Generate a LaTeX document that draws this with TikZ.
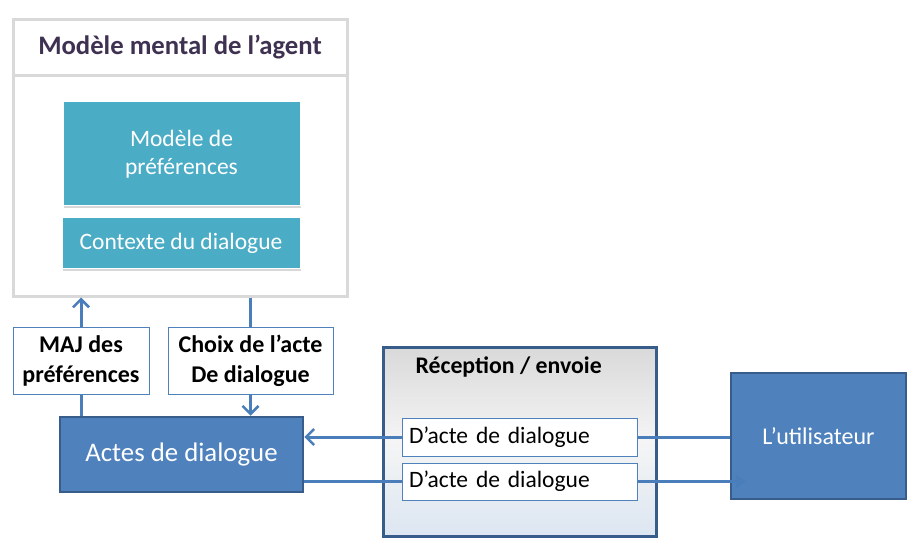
\documentclass[tikz,border=0pt]{standalone}
\usepackage{fontspec}
\setmainfont{Carlito}
\usetikzlibrary{arrows.meta,shadows,calc}
\definecolor{titlec}{HTML}{3F3151}
\definecolor{aqua}{HTML}{4BACC6}
\definecolor{blue1}{HTML}{4F81BD}
\definecolor{blued}{HTML}{385D8A}
\definecolor{linec}{HTML}{4A7EBB}
\definecolor{grayb}{HTML}{D9D9D9}
\definecolor{gradb}{HTML}{DCE6F2}
\tikzset{
  aquabox/.style={fill=aqua, draw=white, line width=1pt, text=white, font=\fontsize{23.5}{28}\selectfont, drop shadow={shadow xshift=1pt, shadow yshift=-2pt, opacity=0.3}},
  labbox/.style={fill=white, draw=blue1, line width=1pt, font=\bfseries\fontsize{24}{30}\selectfont},
  bigblue/.style={fill=blue1, draw=blued, line width=2.5pt, text=white},
  dbox/.style={fill=white, draw=blue1, line width=1pt, font=\fontsize{23.5}{26}\selectfont},
  conn/.style={draw=linec, line width=3pt},
  arr/.style={conn, -{Straight Barb[length=8pt,width=16pt,line width=2.5pt]}},
}
\begin{document}
\begin{tikzpicture}[x=1pt,y=-1pt]
\useasboundingbox (0,0) rectangle (916,556);
% outer mental model box
\node[draw=grayb, line width=3pt, fill=white, minimum width=334pt, minimum height=276pt, inner sep=0pt] (outer) at (180,158) {};
\draw[grayb, line width=3pt] (outer.west |- 0,76) -- (outer.east |- 0,76);
\node[text=titlec, font=\bfseries\fontsize{26.7}{30}\selectfont] (title) at (180,47) {Modèle mental de l’agent};
\node[aquabox, minimum width=237pt, minimum height=104pt, align=center, inner sep=0pt] (pref) at (181.5,154) {Modèle de\\préférences};
\node[aquabox, minimum width=238pt, minimum height=51pt, inner sep=0pt] (ctx) at (181,243.5) {Contexte du dialogue};
% label boxes
\node[labbox, minimum width=136pt, minimum height=67pt, align=center, inner sep=0pt] (maj) at (81,360.5) {MAJ des\\préférences};
\node[labbox, minimum width=165pt, minimum height=67pt, align=center, inner sep=0pt] (choix) at (250.5,360.5) {Choix de l’acte\\De dialogue};
% actes
\node[bigblue, minimum width=243pt, minimum height=75pt, inner sep=0pt, font=\fontsize{26.8}{30}\selectfont] (actes) at (181.5,454.5) {Actes de dialogue};
% reception box
\node[draw=blued, line width=3pt, top color=grayb, bottom color=gradb, middle color=gray!8, minimum width=273pt, minimum height=189pt, inner sep=0pt] (recep) at (519.5,441.5) {};
\node[anchor=west, font=\bfseries\fontsize{23.8}{26}\selectfont] (rtitle) at (412,367) {Réception / envoie};
\node[dbox, minimum width=235pt, minimum height=38pt, inner sep=0pt, anchor=west, text width=222pt, align=left] (d1) at (402,437) {D’acte de dialogue};
\node[dbox, minimum width=235pt, minimum height=37pt, inner sep=0pt, anchor=west, text width=222pt, align=left] (d2) at (402,481.5) {D’acte de dialogue};
% user
\node[bigblue, minimum width=175pt, minimum height=126pt, inner sep=0pt, font=\fontsize{24}{28}\selectfont] (util) at (818.5,436) {L’utilisateur};
% connectors
\draw[arr] (maj.north) -- (maj.north |- outer.south);
\draw[conn] (maj.south |- actes.north) -- (maj.south);
\draw[conn] (outer.south -| choix.north) -- (choix.north);
\draw[arr] (choix.south) -- (choix.south |- actes.north);
\draw[arr] (d1.west) -- (d1.west -| actes.east);
\draw[conn] (d1.east) -- (d1.east -| util.west);
\draw[conn] (actes.east |- d2.west) -- (d2.west);
\coordinate (utip) at ($(d2.east -| util.west)+(16,0)$);
\draw[conn, -{Triangle[length=10pt,width=14pt]}] (d2.east) -- (utip);
\end{tikzpicture}
\end{document}
